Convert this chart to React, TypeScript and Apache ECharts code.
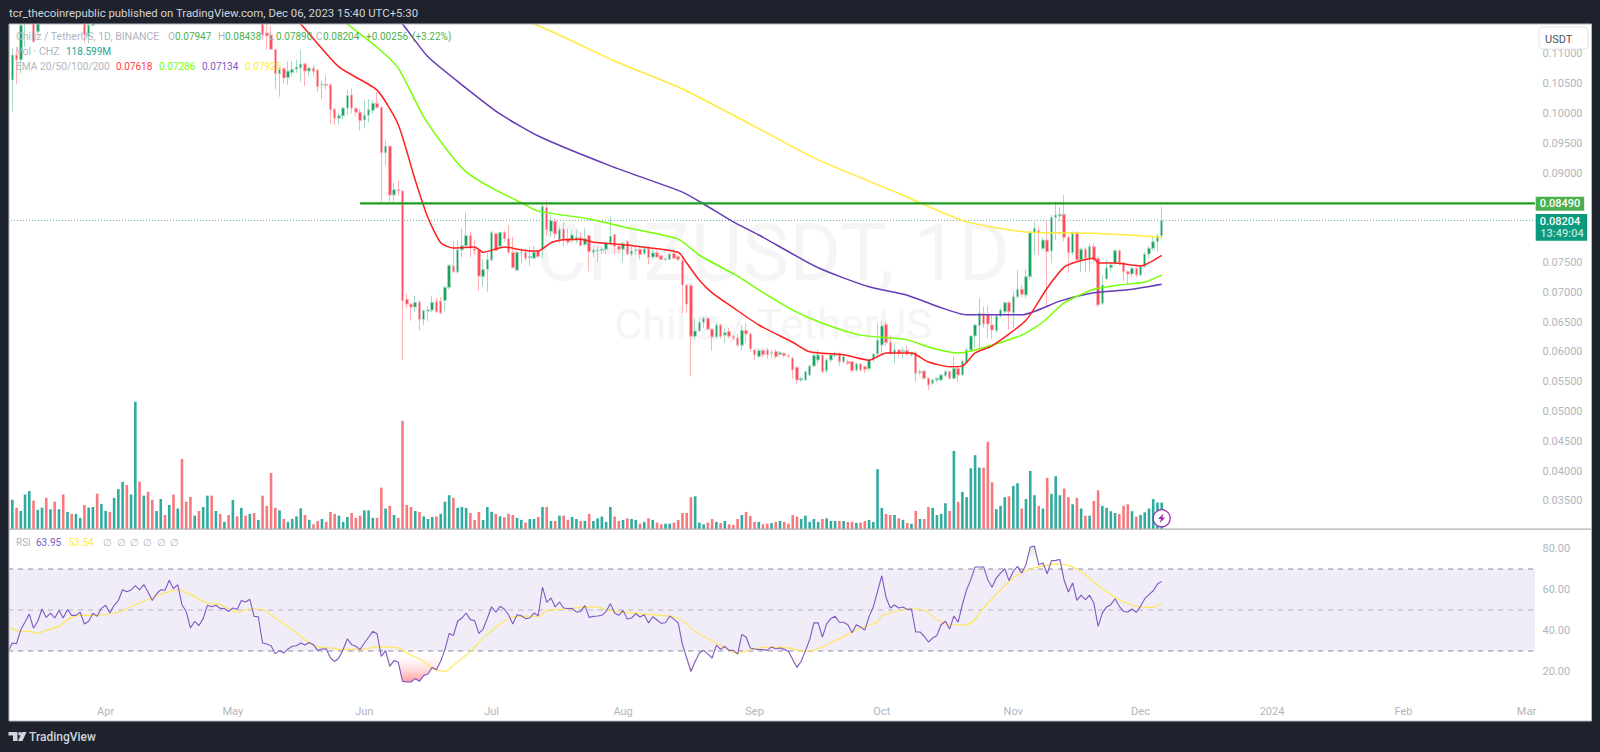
import React, { useEffect, useRef } from "react";
import * as echarts from "echarts";

// [open, close, low, high], one row per day from 2023-03-09
const candlesMar: number[][] = [
[.1175,.1056,.1040,.1190],[.1056,.1098,.1003,.1109],[.1098,.1090,.1049,.1109],[.1090,.1148,.1067,.1155],[.1155,.1175,.1112,.1190],[.1175,.1160,.1150,.1195],[.1165,.1120,.1120,.1185],[.1137,.1160,.1130,.1185],
[.1160,.1185,.1155,.1195],[.1185,.1170,.1160,.1195],[.1170,.1195,.1165,.1205],[.1195,.1180,.1172,.1205],[.1180,.1198,.1175,.1210],[.1198,.1180,.1152,.1205],[.1180,.1192,.1175,.1205],[.1192,.1180,.1172,.1200],[.1180,.1192,.1175,.1200],[.1192,.1198,.1185,.1210],[.1198,.1132,.1118,.1205],[.1129,.1148,.1118,.1165],[.1148,.1162,.1146,.1175],[.1165,.1155,.1152,.1175]];
const candlesApr: number[][] = [
[.1155,.1172,.1152,.1180],[.1172,.1195,.1165,.1205],[.1195,.1180,.1175,.1205],[.1180,.1200,.1175,.1210],[.1200,.1220,.1195,.1235],[.1220,.1260,.1215,.1280],[.1260,.1245,.1235,.1275],[.1245,.1265,.1240,.1280],[.1265,.1290,.1260,.1310],[.1290,.1270,.1260,.1300],[.1270,.1300,.1265,.1315],[.1300,.1280,.1270,.1310],[.1280,.1260,.1250,.1290],[.1260,.1285,.1250,.1300],[.1285,.1300,.1275,.1315],[.1300,.1285,.1275,.1310],[.1285,.1315,.1280,.1330],[.1315,.1290,.1280,.1325],[.1290,.1310,.1285,.1320],[.1310,.1245,.1235,.1315],[.1245,.1225,.1210,.1250],[.1225,.1190,.1175,.1230],[.1190,.1205,.1180,.1215],[.1205,.1185,.1175,.1210],[.1185,.1210,.1180,.1220],[.1210,.1230,.1205,.1240],[.1230,.1225,.1215,.1240],[.1225,.1235,.1220,.1245],[.1235,.1225,.1215,.1240],[.1225,.1235,.1220,.1245],[.1235,.1225,.1215,.1245],[.1225,.1240,.1220,.1255],[.1240,.1235,.1225,.1250],[.1235,.1250,.1230,.1260],[.1250,.1240,.1230,.1260],[.1240,.1250,.1235,.1260],[.1250,.1215,.1205,.1255],[.1215,.1225,.1205,.1235]];
const candlesMay: number[][] = [
[.1190,.11316,.11232,.1200],[.1135,.1130,.1107,.1155],[.11316,.11075,.1107,.1146],[.1107,.10665,.1040,.1107],[.10665,.1075,.1028,.1078],[.1075,.10595,.1050,.1078],[.1060,.1071,.10477,.10868],[.10685,.1074,.1062,.1088],[.1074,.1078,.1068,.1090],[.1076,.1083,.1053,.1107],[.1083,.1071,.1046,.1085],[.1071,.1076,.1062,.1079],[.1076,.1070,.1062,.1081],[.1073,.1045,.1036,.1075],[.1048,.1049,.1024,.1055],[.1049,.1047,.1040,.1064],[.1048,.1006,.0982,.1050],[.1007,.0992,.0980,.1009],[.0992,.0996,.0982,.1001],[.0996,.1009,.0990,.1012],[.1009,.1030,.0997,.1040],[.1031,.1009,.1000,.1042],[.1008,.1002,.0995,.1011],[.1002,.0988,.0971,.1007],[.0989,.0997,.0975,.1022],[.0997,.1006,.0985,.1024],[.1005,.1017,.1000,.1022],[.1017,.1010,.1008,.1036]];
const candlesJun: number[][] = [
[.1010,.0934,.0852,.1012],[.0934,.0945,.0913,.0956],[.0945,.0863,.0852,.0947],[.0863,.0872,.0852,.0883],[.0872,.0870,.0862,.0887],[.0870,.06858,.05862,.0871],[.0688,.0680,.0673,.0698],[.0680,.0675,.0652,.0682],[.0675,.0683,.0667,.0694],[.0683,.0654,.0636,.0687],[.0654,.0669,.0645,.0671],[.0668,.0670,.0652,.0677],[.0670,.0683,.0666,.0694],[.0684,.0667,.0665,.0691],[.0685,.0665,.0663,.0692],[.0686,.0708,.0669,.0711],[.0708,.0745,.0705,.0747],[.0744,.0734,.0733,.0785],[.0734,.0771,.0731,.0787],[.0771,.0778,.0759,.0807],[.0778,.0795,.0776,.0835],[.0795,.0774,.0758,.0802],[.0773,.0770,.0763,.0788],[.0770,.0727,.0703,.0772],[.0726,.0738,.0710,.0755],[.0738,.0755,.0701,.0765],[.0754,.0800,.0752,.0803],[.0798,.0770,.0768,.0800],[.0777,.0800,.0775,.0802],[.0800,.0790,.0785,.0803]];
const candlesJul: number[][] = [
[.0790,.0767,.0764,.0813],[.0767,.0741,.0740,.0793],[.0737,.0767,.0736,.0769],[.0766,.0767,.0749,.0774],[.0767,.0757,.0752,.0772],[.0758,.0760,.0744,.0777],[.0757,.0767,.0757,.0777],[.0769,.0760,.0757,.0772],[.0773,.0844,.0757,.0848],[.0842,.0805,.0795,.0854],[.0802,.0820,.0793,.0830],[.0819,.0798,.0790,.0824],[.0788,.0805,.0782,.0810],[.0806,.0788,.0777,.0818],[.0790,.0784,.0780,.0807],[.0787,.0796,.0782,.0804],[.0787,.0792,.0782,.0804],[.0792,.0778,.0777,.0800],[.0780,.0790,.0777,.0807],[.0795,.0768,.0735,.0797],[.0767,.0771,.0759,.0778],[.0769,.0771,.0751,.0777],[.0770,.0772,.0765,.0776],[.0772,.0782,.0764,.0785],[.0782,.0794,.0780,.0827],[.0797,.0777,.0764,.0797],[.0777,.0772,.0766,.0779],[.0772,.0782,.0750,.0785],[.0785,.0764,.0762,.0787],[.0764,.0769,.0760,.0777],[.0770,.0771,.0763,.0778]];
const candlesAug: number[][] = [
[.0772,.0763,.0755,.0775],[.0765,.0773,.0762,.0777],[.0773,.0758,.0747,.0777],[.0759,.0766,.0755,.0772],[.0766,.0759,.0757,.0770],[.0761,.0755,.0754,.0763],[.0755,.0756,.0753,.0757],[.0755,.0764,.0754,.0766],[.0765,.0757,.0756,.0772],[.0760,.0755,.0752,.0763],[.0753,.0712,.0665,.0759],[.0712,.0680,.0665,.0714],[.0711,.0626,.0559,.0715],[.0626,.0635,.0620,.0656],[.0635,.0649,.0633,.0657],[.0649,.0656,.0640,.0659],[.0656,.0638,.0636,.0659],[.0638,.0625,.0602,.0640],[.0625,.0645,.0622,.0650],[.0645,.0626,.0622,.0647],[.0628,.0632,.0615,.0640],[.0634,.0626,.0622,.0640],[.0626,.0623,.0620,.0628],[.0623,.0611,.0609,.0630],[.0611,.0636,.0603,.0645],[.0636,.0630,.0615,.0648],[.0630,.0605,.0600,.0632],[.0603,.0595,.0586,.0605],[.0592,.0602,.0590,.0606],[.0602,.0595,.0590,.0606],[.06031,.05947,.0588,.0607]];
const candlesSep: number[][] = [
[.05975,.05986,.0590,.0603],[.06003,.05919,.0588,.0604],[.05958,.05986,.0592,.0601],[.05975,.05936,.0590,.0599],[.05936,.05919,.0590,.0596],[.05891,.05695,.05555,.0592],[.0574,.05527,.0546,.0576],[.05527,.05555,.05499,.0558],[.05527,.05667,.0551,.0568],[.05611,.05762,.0559,.0578],[.05762,.05936,.0574,.0598],[.05863,.05947,.0580,.06031],[.05947,.05667,.05639,.0597],[.05684,.05863,.05639,.0590],[.05863,.05947,.0582,.0598],[.05936,.05963,.0590,.0600],[.05963,.05835,.05762,.0599],[.05835,.05919,.0580,.0596],[.05835,.05807,.0578,.0587],[.05835,.05684,.0565,.0585],[.05695,.05796,.0566,.0582],[.05796,.05695,.0566,.0581],[.05751,.05706,.0565,.0577],[.05717,.05863,.0569,.0588],[.05863,.05963,.0583,.0598],[.05963,.06198,.0590,.0648],[.06114,.06433,.0595,.0652],[.06461,.06154,.0610,.0651],[.06159,.05975,.0595,.0628],[.05975,.06031,.05807,.06142]];
const candlesOct: number[][] = [
[.06031,.05975,.0592,.0605],[.06003,.0602,.0589,.0608],[.0602,.05963,.0593,.0610],[.05947,.05986,.0592,.0600],[.05986,.05639,.05499,.0601],[.0565,.05667,.0561,.0570],[.05678,.05555,.0554,.0569],[.05555,.05443,.05359,.0557],[.05471,.05527,.0545,.0554],[.05527,.05555,.0549,.0557],[.05527,.05611,.0551,.0563],[.056,.05667,.0558,.0570],[.05667,.05555,.0553,.0568],[.05555,.05723,.0553,.05919],[.05723,.05611,.05499,.0575],[.05611,.05835,.0560,.0586],[.05824,.06031,.0581,.0606],[.06031,.06265,.0601,.0628],[.06265,.0645,.06059,.0647],[.0644,.0665,.0606,.0690],[.06646,.06467,.0640,.0676],[.06629,.06467,.06226,.06769],[.0645,.06366,.0621,.06618],[.06355,.06601,.0632,.0663],[.06601,.06702,.0658,.0673],[.06674,.06825,.0664,.0685],[.06825,.06674,.06366,.0685],[.06657,.06925,.0640,.07009],[.06925,.07048,.0690,.07373],[.07048,.06965,.0692,.0712],[.06953,.07261,.0690,.07384]];
const candlesNov: number[][] = [
[.07261,.07999,.0722,.0803],[.07999,.08072,.07625,.08167],[.08033,.07999,.07625,.0810],[.07736,.07876,.0770,.0792],[.07876,.0768,.06758,.08184],[.07692,.08257,.07485,.0830],[.08257,.08296,.07876,.0852],[.0828,.08307,.0820,.08424],[.08307,.07921,.0785,.08631],[.07921,.07664,.07328,.0795],[.07664,.07999,.0762,.0802],[.07999,.07541,.0752,.0802],[.07541,.0772,.07345,.0775],[.0772,.07569,.07328,.0775],[.07569,.07764,.0735,.0782],[.07764,.07541,.0750,.0782],[.07569,.06786,.0675,.0760],[.06814,.07121,.0678,.07289],[.07222,.07412,.0721,.07552],[.07412,.07457,.0735,.0750],[.07485,.07697,.0745,.0772],[.07697,.07496,.0745,.0772],[.07496,.07345,.07194,.0750],[.07345,.07306,.07138,.0737],[.07306,.07401,.0725,.0742],[.07401,.07289,.0725,.0742]];
const candlesDec: number[][] = [
[.07289,.07429,.0727,.0745],[.07429,.07641,.0741,.0767],[.07641,.07736,.07569,.0778],[.07736,.07848,.0770,.07943],[.07848,.07947,.0768,.0798],[.07947,.08204,.0789,.08438]];

// volume in millions of CHZ, and the colour of each volume bar (r = down, t = up)
const volumesA = [128,131,96,81,155,171,128,86,96,140,89,123,89,155,77,68,68,50,108,96,99,159,113,81,77,140,179,212,198,155,572,213,150,167,131,81,135,63,108,155,92,315,123,144,60,81,99,150,150,81,68,32,63,131,57,95,60,68,72,41,150,104,252,95,84,45,32,45,57,93,63,41,21,36,45,32,77,68,60,32,54,72,50,60,84,84,50,50,186,92,104,63,50,486,108,99,81,77,57,45,54,57,68,123,152,140,95,99,95,72,41,77,41,99,77,68,57,53,68,63,50,41,29,45,45,54,99,99,36,36,60,60,41,54,45];
const volumesB = [36,36,68,36,48,56,32,99,56,36,41,48,45,41,24,32,48,41,29,21,24,24,29,41,72,72,143,147,29,21,29,45,32,27,36,21,18,45,63,77,59,32,32,21,24,27,32,36,32,24,63,56,45,60,32,45,32,45,48,36,36,36,36,32,32,27,29,36,41,32,269,95,68,63,63,48,41,27,24,81,45,45,99,95,63,68,116,81,351,122,167,143,273,332,276,276,392,210,89,104,143,147,194,206,92,135,261,152,104,92,230,158,237,152,182,143,111,140,92,60,60,126,174,104,95,80,72,68,104,111,80,56,63,75,92,135,119,118.599];
const volumeSides = "rtrtttrttr"+"trtrtrttrt"+"trttrtttrt"+"trtrrttrtr"+"trrrtrttrt"+"rtrtrtrtrt"+"rrrrtrtttt"+"rtrrtrrrtt"+"trrrtttrrt"+"rtrrrrtrtt"+"trtttrtttr"+"rrtttrtrrr"+"ttrttrtrtr"+"trrtt"+"rtrtttttrr"+"trttrtrtrr"+"ttrrrrrttt"+"rrtrtrrrtr"+"rrtrrtrtrr"+"rrtttttrtt"+"trtrrtrrtt"+"ttrrtrtrtr"+"trrttttrtr"+"tttttrrrtt"+"trttrtttrt"+"rtttrrtrtr"+"trrttttrrr"+"trttttt"+"t";

// EMAs as [dayIndex, price] readings
const ema20 = [[60,.122],[69,.1150],[78,.1078],[87,.1039],[92,.0981],[96,.0888],[99,.0825],[102,.0783],[105,.0774],[110,.0776],[112,.0767],[117,.0776],[121,.0771],[125,.0769],[128,.0783],[131,.0788],[135,.0789],[138,.0784],[146,.0779],[158,.0767],[160,.0749],[163,.0720],[166,.0699],[171,.0674],[177,.0645],[185,.0616],[189,.0600],[197,.0595],[203,.0586],[207,.0598],[213,.0598],[217,.0583],[222,.0575],[225,.0576],[228,.0598],[232,.0610],[240,.0653],[245,.0707],[249,.0742],[252,.0751],[256,.0757],[257,.0749],[261,.0749],[267,.0744],[272,.07618]];
const ema50 = [[70,.1215],[80,.115],[87,.1111],[92,.1076],[98,.0994],[104,.0934],[108,.0902],[114,.0875],[121,.0850],[125,.0836],[137,.0823],[146,.0808],[158,.0789],[163,.0762],[172,.0727],[177,.0704],[185,.0670],[192,.0648],[201,.0628],[212,.0620],[218,.0606],[224,.0598],[228,.0603],[239,.0628],[244,.0650],[249,.0682],[256,.0705],[262,.0712],[268,.0717],[272,.07286]];
const ema100 = [[85,.1215],[93,.115],[99,.1095],[107,.1048],[116,.0999],[125,.0962],[142,.0912],[159,.0868],[164,.0848],[171,.0818],[177,.0796],[191,.0741],[203,.0709],[212,.0695],[220,.0674],[226,.0662],[239,.0662],[248,.0685],[256,.0699],[264,.0704],[272,.07134]];
const ema200 = [[110,.1175],[124,.115],[143,.1088],[159,.1041],[175,.0982],[191,.0922],[210,.0866],[215,.0850],[226,.0818],[240,.0801],[256,.0799],[272,.07925]];

const levelPrice = 0.0849;
const lastPrice = 0.08204;

const rsiValues = [29.8,33.9,33.6,40.4,44.1,48.0,41.2,44.5,50.5,46.4,48.5,46.1,49.8,46.1,50.2,47.4,47.4,48.9,43.2,44.5,48.4,46.9,50.8,52.3,48.5,52.3,54.6,59.9,58.9,59.8,61.9,59.8,62.4,58.8,54.6,57.8,59.9,59.6,64.5,60.4,62.4,52.6,49.3,41.2,44.5,42.4,45.8,52.3,51.6,52.3,50.8,50.7,49.3,51.0,50.2,54.6,53.9,55.2,46.9,46.7,33.9,33.4,32.6,28.7,30.2,29.0,31.0,32.3,32.6,33.9,32.9,34.1,33.1,30.2,31.0,31.1,26.6,24.8,26.6,30.7,36.0,33.1,32.3,30.7,33.9,36.7,39.6,38.3,27.4,30.2,22.5,25.4,24.5,15.2,14.9,14.9,16.5,15.2,18.1,18.8,22.0,20.9,25.0,30.7,38.5,37.6,44.5,46.1,48.5,45.3,44.8,38.6,40.7,46.0,51.6,48.9,51.8,50.5,47.7,43.2,47.7,47.2,45.8,46.1,48.5,47.2,61.2,53.7,55.9,51.5,53.9,51.0,50.7,50.8,49.0,49.3,52.1,46.4,46.9,47.1,47.4,49.3,53.1,48.5,47.4,49.8,45.6,46.1,48.2,46.6,47.7,43.7,46.7,45.1,43.5,43.8,47.1,45.4,43.7,33.1,26.6,20.0,24.9,29.0,30.3,28.5,26.6,32.9,30.8,32.3,30.3,30.3,28.5,38.0,36.8,31.5,31.0,30.8,30.7,30.3,32.0,31.1,31.5,30.8,29.8,25.8,22.0,25.0,30.2,35.5,43.7,43.7,36.8,43.2,45.8,46.9,44.0,44.0,42.8,38.9,42.8,41.7,40.2,46.9,51.5,59.1,66.7,56.2,51.0,52.4,51.0,51.5,50.3,50.5,39.3,39.3,37.2,34.4,36.3,37.6,42.8,44.5,40.7,47.1,44.1,52.6,59.9,64.8,71.0,71.0,71.0,64.8,61.1,65.6,68.0,70.2,64.3,68.9,71.3,68.0,72.1,80.7,81.2,72.1,72.9,67.7,74.1,74.2,74.6,64.5,58.8,63.2,54.7,57.3,55.0,57.2,53.4,42.0,48.5,51.5,52.6,55.5,51.8,49.3,49.0,50.5,48.9,51.8,55.5,57.5,59.4,62.7,63.95];
const rsiAverage = [[0,41.9],[3,39.6],[5,39.6],[7,38.6],[9,40.2],[12,42],[14,45.3],[17,47.4],[21,47.4],[26,48.9],[30,52.6],[34,55.9],[37,58.3],[40,59.9],[43,57.5],[47,53.4],[50,52.6],[54,49],[57,50.5],[60,50.2],[63,46.1],[68,38.8],[71,33.9],[73,32],[76,31.5],[79,30.7],[84,31],[87,32],[92,31.5],[94,29],[98,25],[100,21.4],[103,20.1],[105,23],[109,29.8],[112,36.3],[117,44.5],[120,46.9],[125,46.9],[127,49.7],[132,50.5],[135,51.3],[139,51.5],[141,50],[145,49],[152,47.6],[158,46.1],[162,39.6],[167,33.9],[172,29],[176,31.1],[180,31.9],[184,31.5],[188,29.7],[192,32],[196,35.9],[201,41.2],[205,44.1],[206,47.2],[213,50.5],[216,50],[219,45.3],[222,42.8],[226,42.8],[231,53.4],[237,65.6],[241,70],[248,72.4],[252,70],[258,60.4],[263,53.9],[267,51.5],[270,51.3],[272,53.54]];

const priceTicksHidden = ["0.03000", "0.08000", "0.08500", "0.11500"];
const monthNames = ["2024","Feb","Mar","Apr","May","Jun","Jul","Aug","Sep","Oct","Nov","Dec"];

const FONT = "Roboto, sans-serif";
const GRAY = "#b2b5be";
const BG = "#1e222d";
const bandW = 4.2413;
const gridLeft = 5.96;
const gridWidth = 374 * bandW;

const categories: string[] = [];
for (let i = 0; i < 374; i++) {
  const d = new Date(Date.UTC(2023, 2, 9 + i));
  categories.push(d.toISOString().slice(0, 10));
}

function legend(x: number, y: number, text: string, fill: string, size = 10) {
  return {
    type: "text", x, y, z: 15, silent: true,
    style: { text, fill, font: `${size}px ${FONT}`, align: "left", verticalAlign: "middle" },
  };
}

function rect(x: number, y: number, w: number, h: number, style: any, z = 20, r = 0) {
  return { type: "rect", z, silent: true, shape: { x, y, width: w, height: h, r }, style };
}

export default function App() {
  const ref = useRef<HTMLDivElement>(null);
  useEffect(() => {
    document.body.style.margin = "0";
    document.body.style.background = BG;
    const chart = echarts.init(ref.current!, undefined, { renderer: "svg" });

    const candles = [...candlesMar, ...candlesApr, ...candlesMay, ...candlesJun, ...candlesJul, ...candlesAug, ...candlesSep, ...candlesOct, ...candlesNov, ...candlesDec];
    const volumes = [...volumesA, ...volumesB];
    const volumeData = volumes.map((v, i) => ({
      value: v,
      itemStyle: { color: volumeSides[i] === "r" ? "#f8797d" : "#2fab9f" },
    }));
    const rsiFloor = rsiValues.map((v) => Math.min(v, 30));
    const rsiDip = rsiValues.map((v) => 30 - Math.min(v, 30));
    const rsiCeil = rsiValues.map(() => 70);
    const rsiOver = rsiValues.map((v) => Math.max(v, 70) - 70);

    const hiddenLine = { width: 0, opacity: 0 };
    const emaSeries = (name: string, data: number[][], color: string) => ({
      name, type: "line", xAxisIndex: 0, yAxisIndex: 0, data, z: 6, smooth: 0.2,
      showSymbol: false, silent: true, lineStyle: { color, width: 1.5 },
    });

    const xBase = (gridIndex: number) => ({
      type: "category", gridIndex, data: categories, boundaryGap: true, show: false,
    });

    const option: any = {
      animation: false,
      backgroundColor: BG,
      textStyle: { fontFamily: FONT },
      grid: [
        { left: gridLeft, width: gridWidth, top: 24, height: (0.085 / 0.005) * 29.8 },
        { left: gridLeft, width: gridWidth, top: 380, height: 149 },
        { left: gridLeft, width: gridWidth, top: 528, height: 184.5 },
      ],
      xAxis: [
        xBase(0),
        xBase(1),
        {
          ...xBase(2),
          show: true,
          axisLine: { show: false },
          axisTick: { show: false },
          axisLabel: {
            color: GRAY,
            fontSize: 11,
            fontFamily: FONT,
            margin: -7,
            interval: (_i: number, v: string) => v.endsWith("-01"),
            formatter: (v: string) => monthNames[Number(v.slice(5, 7)) - 1],
          },
        },
      ],
      yAxis: [
        {
          type: "value", gridIndex: 0, position: "right", min: 0.03, max: 0.115, interval: 0.005, scale: true,
          splitLine: { show: false }, axisLine: { show: false }, axisTick: { show: false },
          axisLabel: {
            inside: true, align: "left", margin: gridLeft + gridWidth - 1542.5, color: GRAY, fontSize: 11, fontFamily: FONT,
            formatter: (v: number) => { const s = v.toFixed(5); return priceTicksHidden.includes(s) ? "" : s; },
          },
        },
        { type: "value", gridIndex: 1, min: 0, max: 670, show: false },
        {
          type: "value", gridIndex: 2, position: "right", min: 0, max: 90, interval: 20,
          splitLine: { show: false }, axisLine: { show: false }, axisTick: { show: false },
          axisLabel: {
            inside: true, align: "left", margin: gridLeft + gridWidth - 1542.5, color: GRAY, fontSize: 11, fontFamily: FONT,
            formatter: (v: number) => (v >= 20 && v <= 80 ? v.toFixed(2) : ""),
          },
        },
      ],
      series: [
        {
          name: "Vol", type: "bar", xAxisIndex: 1, yAxisIndex: 1, data: volumeData, barWidth: 2.6, z: 2, silent: true,
        },
        {
          name: "CHZUSDT", type: "candlestick", xAxisIndex: 0, yAxisIndex: 0, data: candles, barWidth: 3, z: 4, silent: true,
          itemStyle: { color: "#1aa35f", color0: "#ff4d5c", borderColor: "#a3d9c3", borderColor0: "#ffb0b6", borderWidth: 1 },
        },
        emaSeries("EMA 200", ema200, "#ffeb3b"),
        emaSeries("EMA 100", ema100, "#673ab7"),
        emaSeries("EMA 50", ema50, "#76ff03"),
        emaSeries("EMA 20", ema20, "#ff1f1f"),
        {
          name: "Level", type: "line", xAxisIndex: 0, yAxisIndex: 0, z: 7, showSymbol: false, silent: true,
          data: [[83, levelPrice], [360, levelPrice]], lineStyle: { color: "#1e9c1e", width: 2.4 },
        },
        {
          name: "Last", type: "line", xAxisIndex: 0, yAxisIndex: 0, z: 3, showSymbol: false, silent: true,
          data: [[0, lastPrice], [360, lastPrice]], lineStyle: { color: "#6aa89c", width: 1, type: [1, 2] },
        },
        {
          name: "RSI band", type: "line", xAxisIndex: 2, yAxisIndex: 2, z: 1, showSymbol: false, silent: true,
          data: [[0, 70], [360, 70]], lineStyle: { color: "#8a8d96", width: 1, type: [5, 5] },
          markArea: {
            silent: true, itemStyle: { color: "rgba(126,87,194,0.11)" },
            data: [[{ coord: [0, 70] }, { coord: [360, 30] }]],
          },
        },
        {
          name: "RSI 50", type: "line", xAxisIndex: 2, yAxisIndex: 2, z: 2, showSymbol: false, silent: true,
          data: [[0, 50], [360, 50]], lineStyle: { color: "#b5b3bd", width: 1, type: [5, 5] },
        },
        {
          name: "RSI 30", type: "line", xAxisIndex: 2, yAxisIndex: 2, z: 2, showSymbol: false, silent: true,
          data: [[0, 30], [360, 30]], lineStyle: { color: "#8a8d96", width: 1, type: [5, 5] },
        },
        {
          name: "dipBase", type: "line", xAxisIndex: 2, yAxisIndex: 2, stack: "dip", z: 2, showSymbol: false, silent: true,
          data: rsiFloor, lineStyle: hiddenLine,
        },
        {
          name: "dip", type: "line", xAxisIndex: 2, yAxisIndex: 2, stack: "dip", z: 2, showSymbol: false, silent: true,
          data: rsiDip, lineStyle: hiddenLine,
          areaStyle: {
            opacity: 1,
            color: new echarts.graphic.LinearGradient(0, 0, 0, 1, [
              { offset: 0, color: "rgba(255,255,255,0)" },
              { offset: 1, color: "#ff9c9c" },
            ]),
          },
        },
        {
          name: "overBase", type: "line", xAxisIndex: 2, yAxisIndex: 2, stack: "over", z: 2, showSymbol: false, silent: true,
          data: rsiCeil, lineStyle: hiddenLine,
        },
        {
          name: "over", type: "line", xAxisIndex: 2, yAxisIndex: 2, stack: "over", z: 2, showSymbol: false, silent: true,
          data: rsiOver, lineStyle: hiddenLine,
          areaStyle: {
            opacity: 1,
            color: new echarts.graphic.LinearGradient(0, 0, 0, 1, [
              { offset: 0, color: "#cfe8d2" },
              { offset: 1, color: "rgba(255,255,255,0)" },
            ]),
          },
        },
        {
          name: "RSI MA", type: "line", xAxisIndex: 2, yAxisIndex: 2, z: 4, smooth: 0.3, showSymbol: false, silent: true,
          data: rsiAverage, lineStyle: { color: "#ffe75c", width: 1.2 },
        },
        {
          name: "RSI", type: "line", xAxisIndex: 2, yAxisIndex: 2, z: 5, showSymbol: false, silent: true,
          data: rsiValues, lineStyle: { color: "#7e57c2", width: 1.1 },
        },
      ],
      graphic: {
        elements: [
          rect(9, 24, 1582.5, 697, { fill: "#ffffff" }, -1),
          {
            type: "text", x: 773, y: 253, z: 1, silent: true,
            style: { text: "CHZUSDT, 1D", fill: "#f5f5f6", font: `79px ${FONT}`, align: "center", verticalAlign: "middle" },
          },
          {
            type: "text", x: 773, y: 324, z: 1, silent: true,
            style: { text: "Chiliz / TetherUS", fill: "#f5f5f6", font: `43px ${FONT}`, align: "center", verticalAlign: "middle" },
          },
          // frame
          rect(0, 0, 9, 752, { fill: BG }),
          rect(1591.5, 0, 9, 752, { fill: BG }),
          rect(0, 0, 1600, 24, { fill: BG }),
          rect(0, 721, 1600, 31, { fill: BG }),
          rect(9, 23.5, 1582.5, 1, { fill: "#b7b9bf" }),
          rect(8.5, 24, 1, 697, { fill: "#b7b9bf" }),
          rect(1591, 24, 1, 697, { fill: "#b7b9bf" }),
          rect(9, 720.5, 1582.5, 1, { fill: "#b7b9bf" }),
          rect(9, 528.5, 1582.5, 1.2, { fill: "#b0b0b0" }),
          // header and footer
          {
            type: "text", x: 9, y: 13, z: 25, silent: true,
            style: { text: "tcr_thecoinrepublic published on TradingView.com, Dec 06, 2023 15:40 UTC+5:30", fill: "#d1d4dc", font: `11.4px ${FONT}`, align: "left", verticalAlign: "middle" },
          },
          { type: "polygon", z: 25, silent: true, shape: { points: [[8.5, 732], [17.5, 732], [17.5, 741], [13, 741], [13, 735.5], [8.5, 735.5]] }, style: { fill: "#d1d4dc" } },
          { type: "circle", z: 25, silent: true, shape: { cx: 20, cy: 733.8, r: 1.8 }, style: { fill: "#d1d4dc" } },
          { type: "polygon", z: 25, silent: true, shape: { points: [[22, 732], [26.5, 732], [22.5, 741], [18, 741]] }, style: { fill: "#d1d4dc" } },
          {
            type: "text", x: 29, y: 737, z: 25, silent: true,
            style: { text: "TradingView", fill: "#d1d4dc", font: `500 12px ${FONT}`, align: "left", verticalAlign: "middle" },
          },
          // legends
          legend(16, 36.5, "Chiliz / TetherUS, 1D, BINANCE", GRAY, 10.5),
          legend(168, 36.5, "O", GRAY), legend(175, 36.5, "0.07947", "#4caf50"),
          legend(218, 36.5, "H", GRAY), legend(225, 36.5, "0.08438", "#4caf50"),
          legend(269, 36.5, "L", GRAY), legend(276, 36.5, "0.07890", "#4caf50"),
          legend(316, 36.5, "C", GRAY), legend(323, 36.5, "0.08204", "#4caf50"),
          legend(366, 36.5, "+0.00256", "#4caf50"), legend(412, 36.5, "(+3.22%)", "#4caf50"),
          legend(16, 51, "Vol · CHZ", GRAY, 10.5), legend(66, 51, "118.599M", "#26a69a"),
          legend(16, 66, "EMA 20/50/100/200", GRAY, 10.2),
          legend(116, 66, "0.07618", "#ff3d3d"), legend(159, 66, "0.07286", "#76ff03"),
          legend(202, 66, "0.07134", "#7e57c2"), legend(245, 66, "0.07925", "#ffeb3b"),
          legend(16, 542.5, "RSI", GRAY), legend(36, 542.5, "63.95", "#7e57c2"), legend(68.5, 542.5, "53.54", "#ffeb3b"),
          ...[103, 116.5, 130, 143, 156.5, 170].map((x) => legend(x, 542.5, "∅", GRAY)),
          // scale button and price tags
          rect(1539, 27, 49, 22, { fill: "#ffffff", stroke: "#e0e3eb", lineWidth: 1 }, 20, 4),
          {
            type: "text", x: 1558.7, y: 39, z: 25, silent: true,
            style: { text: "USDT", fill: "#50535e", font: `11px ${FONT}`, align: "center", verticalAlign: "middle" },
          },
          rect(1535.7, 196.7, 48.5, 14, { fill: "#4caf50" }),
          {
            type: "text", x: 1560, y: 203.9, z: 25, silent: true,
            style: { text: "0.08490", fill: "#ffffff", font: `500 11px ${FONT}`, align: "center", verticalAlign: "middle" },
          },
          rect(1535.7, 214, 51.5, 26.7, { fill: "#0b9a7d" }),
          {
            type: "text", x: 1560, y: 221.2, z: 25, silent: true,
            style: { text: "0.08204", fill: "#ffffff", font: `500 11px ${FONT}`, align: "center", verticalAlign: "middle" },
          },
          {
            type: "text", x: 1562, y: 233.5, z: 25, silent: true,
            style: { text: "13:49:04", fill: "#b8e6da", font: `500 11px ${FONT}`, align: "center", verticalAlign: "middle" },
          },
          // alert icon
          { type: "circle", z: 20, silent: true, shape: { cx: 1161.7, cy: 518.3, r: 8.5 }, style: { fill: "#ffffff", stroke: "#9c27b0", lineWidth: 1.2 } },
          { type: "polygon", z: 21, silent: true, shape: { points: [[1163.5, 513.5], [1158, 519], [1161, 519], [1159.8, 523], [1165.3, 517.5], [1162.3, 517.5]] }, style: { fill: "#9c27b0" } },
        ],
      },
    };

    chart.setOption(option);
    return () => chart.dispose();
  }, []);
  return <div ref={ref} style={{ width: 1600, height: 752 }} />;
}
